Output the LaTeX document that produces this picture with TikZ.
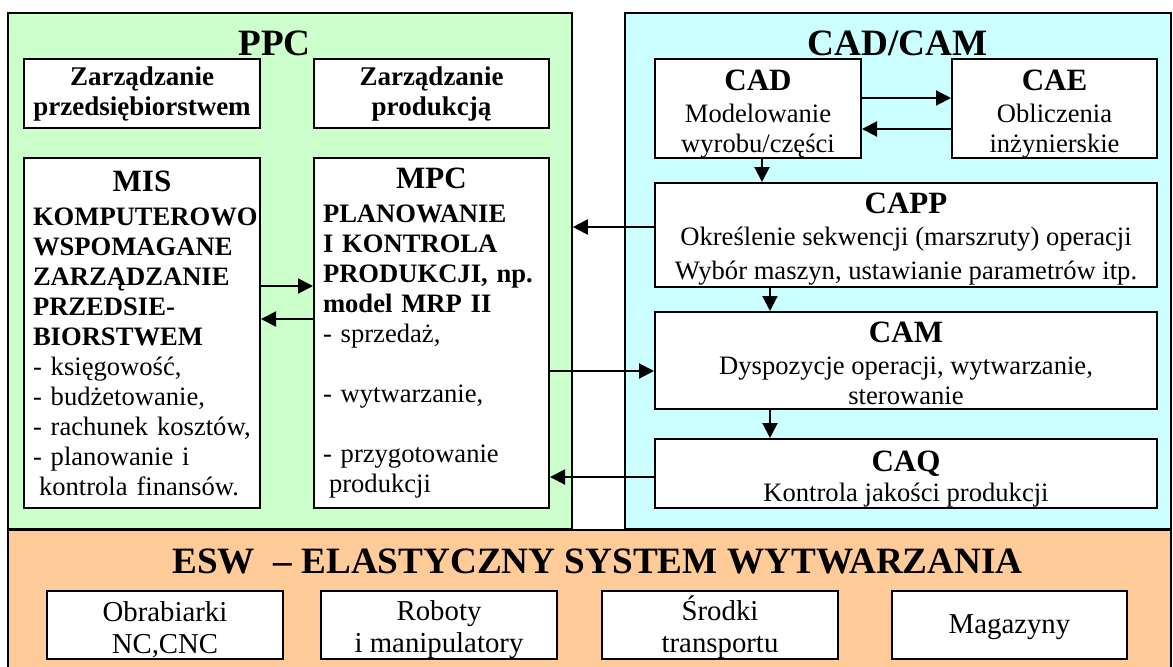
\documentclass[tikz,border=0pt]{standalone}
\usepackage{fontspec}
\setmainfont{Liberation Serif}
\usetikzlibrary{arrows.meta}
\setlength{\parindent}{0pt}

\definecolor{zielony}{HTML}{CCFFCC}
\definecolor{blekit}{HTML}{CCFFFF}
\definecolor{pomarancz}{HTML}{FFCC99}

\newcommand{\tytul}[1]{{\fontsize{15.5}{16}\selectfont\bfseries #1}}
\newcommand{\podp}[1]{\rule{0pt}{#1}}

\begin{document}
\begin{tikzpicture}[x=0.5pt, y=-0.5pt,
    ramka/.style={draw, line width=0.8pt, inner sep=0pt},
    blok/.style={draw, fill=white, line width=1pt, inner sep=0pt, align=center, font=\fontsize{13.3}{15}\selectfont},
    maly/.style={blok, minimum width=118pt, minimum height=34pt, font=\fontsize{14.4}{16}\selectfont},
    naglowek/.style={font=\fontsize{18.6}{20}\selectfont\bfseries, inner sep=0pt, anchor=base},
    strz/.style={line width=1pt, -{Triangle[length=7.5pt, width=7.5pt]}}]
        \useasboundingbox (0,0) rectangle (1173,666);

        % obszary
        \node[ramka, fill=zielony, minimum width=282pt, minimum height=258pt] (ppc) at (290,271) {};
        \node[ramka, fill=blekit, minimum width=273pt, minimum height=258pt] (cadcam) at (898,271) {};
        \node[ramka, fill=pomarancz, minimum width=581.5pt, minimum height=69.5pt] (esw) at (589.5,599.5) {};

        \node[naglowek] (tppc) at (274.5,55) {PPC};
        \node[naglowek] (tcadcam) at (897.5,55) {CAD/CAM};
        \node[naglowek] (tesw) at (597.5,573) {ESW\ \ – ELASTYCZNY SYSTEM WYTWARZANIA};

        % PPC
        \node[blok, minimum width=118pt, minimum height=34.5pt, font=\fontsize{13.5}{15}\selectfont\bfseries] (zprz) at (142,93.5) {Zarządzanie\\przedsiębiorstwem};
        \node[blok, minimum width=117.5pt, minimum height=34.5pt, font=\fontsize{13.5}{15}\selectfont\bfseries] (zprod) at (431.5,93.5) {Zarządzanie\\produkcją};
        \node[blok, minimum width=118pt, minimum height=175pt, text width=109pt, align=left] (mis) at (142,333) {%
            \makebox[\hsize]{\tytul{MIS}}\\[2pt]
            {\bfseries KOMPUTEROWO\\WSPOMAGANE\\ZARZĄDZANIE\\PRZEDSIE-\\BIORSTWEM}\\
            - księgowość,\\- budżetowanie,\\- rachunek kosztów,\\- planowanie i\\\hspace*{3pt}kontrola finansów.};
        \node[blok, minimum width=117.5pt, minimum height=175pt, text width=108.5pt, align=left] (mpc) at (431.5,333) {%
            \makebox[\hsize]{\tytul{MPC}}\\[2pt]
            {\bfseries PLANOWANIE\\I KONTROLA\\PRODUKCJI, np.\\model MRP II}\\
            - sprzedaż,\\\mbox{}\\- wytwarzanie,\\\mbox{}\\- przygotowanie\\\hspace*{3pt}produkcji};

        % CAD/CAM
        \node[blok, minimum width=103pt, minimum height=49.5pt] (cad) at (758,108.5) {\podp{15.5pt}\tytul{CAD}\\[1pt]Modelowanie\\wyrobu/części};
        \node[blok, minimum width=102.5pt, minimum height=49.5pt] (cae) at (1054.5,108.5) {\podp{15.5pt}\tytul{CAE}\\[1pt]Obliczenia\\inżynierskie};
        \node[blok, minimum width=251pt, minimum height=52pt] (capp) at (906,235) {\podp{14.3pt}\tytul{CAPP}\\[1pt]Określenie sekwencji (marszruty) operacji\\[2pt]Wybór maszyn, ustawianie parametrów itp.};
        \node[blok, minimum width=251pt, minimum height=48.5pt] (cam) at (906,360.5) {\podp{13.3pt}\tytul{CAM}\\[1pt]Dyspozycje operacji, wytwarzanie,\\sterowanie};
        \node[blok, minimum width=251pt, minimum height=34.5pt] (caq) at (906,473.5) {\podp{16.3pt}\tytul{CAQ}\\Kontrola jakości produkcji};

        % ESW
        \node[maly] (obr) at (165,625) {\podp{14.8pt}Obrabiarki\\NC,CNC};
        \node[maly] (rob) at (439,625) {\podp{14.8pt}Roboty\\i manipulatory};
        \node[maly] (srt) at (720,625) {\podp{14.8pt}Środki\\transportu};
        \node[maly, minimum width=117.5pt] (mag) at (1009.5,625) {\podp{12pt}Magazyny};

        % strzalki
        \draw[strz] ([yshift=23.5pt]mis.east) -- ([yshift=23.5pt]mis.east -| mpc.west);
        \draw[strz] ([yshift=7pt]mpc.west) -- ([yshift=7pt]mpc.west -| mis.east);
        \draw[strz] ([yshift=5.25pt]cad.east) -- ([yshift=5.25pt]cad.east -| cae.west);
        \draw[strz] ([yshift=-10.25pt]cae.west) -- ([yshift=-10.25pt]cae.west -| cad.east);
        \draw[strz] ([xshift=2pt]cad.south) -- ([xshift=2pt]cad.south |- capp.north);
        \draw[strz] ([yshift=4pt]capp.west) -- ([yshift=4pt]capp.west -| ppc.east);
        \draw[strz] ([xshift=-68pt]capp.south) -- ([xshift=-68pt]capp.south |- cam.north);
        \draw[strz] ([xshift=-68pt]cam.south) -- ([xshift=-68pt]cam.south |- caq.north);
        \draw[strz] ([yshift=-5.25pt]cam.west -| mpc.east) -- ([yshift=-5.25pt]cam.west);
        \draw[strz] ([yshift=-1.75pt]caq.west) -- ([yshift=-1.75pt]caq.west -| mpc.east);
    \end{tikzpicture}
\end{document}
